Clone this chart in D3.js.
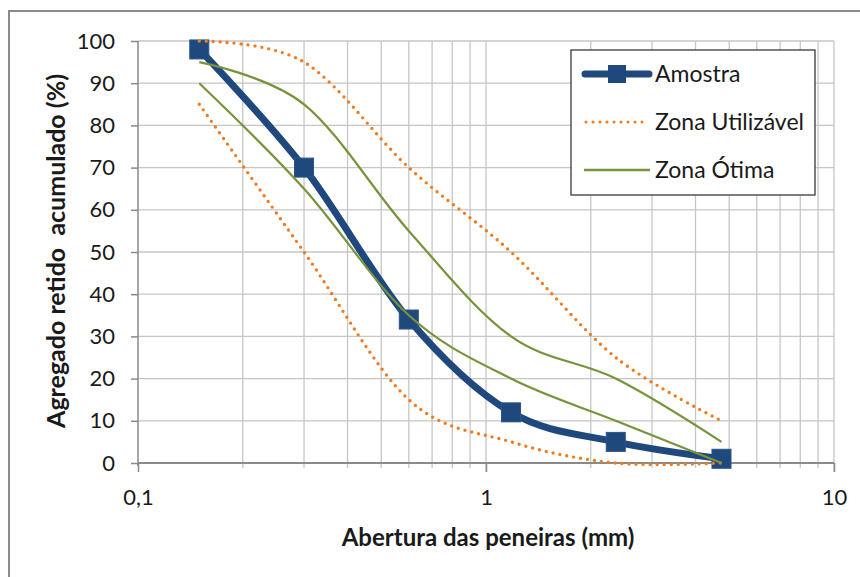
<!DOCTYPE html>
<html>
<head>
<meta charset="utf-8">
<script src="https://cdn.jsdelivr.net/npm/d3@7"></script>
<style>
  body { margin: 0; background: #fff; }
  svg text { font-family: Lato, "Open Sans", "DejaVu Sans", sans-serif; fill: #1a1a1a; }
</style>
</head>
<body>
<svg id="chart" width="860" height="577"></svg>
<script>
// Sieve openings (mm) and cumulative retained percentages
const sieves = [0.15, 0.3, 0.6, 1.18, 2.36, 4.75];
const amostra = [98, 70, 34, 12, 5, 1];
const utilInferior = [85, 50, 15, 5, 0, 0];
const utilSuperior = [100, 95, 70, 50, 25, 10];
const otimaInferior = [90, 65, 35, 20, 10, 0];
const otimaSuperior = [95, 85, 55, 30, 20, 5];

const xMajorTicks = [0.1, 1, 10];
const xTickLabels = ["0,1", "1", "10"];
const yTicks = [0, 10, 20, 30, 40, 50, 60, 70, 80, 90, 100];
const legendLabels = ["Amostra", "Zona Utilizável", "Zona Ótima"];

const colors = { amostra: "#1f497d", util: "#f07c22", otima: "#77933c" };

const svg = d3.select("#chart");
const plot = { left: 138, right: 834, top: 41, bottom: 463 };

const x = d3.scaleLog().domain([0.1, 10]).range([plot.left, plot.right]);
const y = d3.scaleLinear().domain([0, 100]).range([plot.bottom, plot.top]);

// Outer frame (left and top edges)
svg.append("path")
  .attr("d", "M9,577 V11 H860")
  .attr("fill", "none").attr("stroke", "#8a8a8a").attr("stroke-width", 2);

// Minor log ticks 0.2..0.9 and 2..9
const minorTicks = [];
[0.1, 1].forEach(d => { for (let k = 2; k <= 9; k++) minorTicks.push(+(d * k).toFixed(2)); });

const grid = svg.append("g").attr("stroke", "#c6c6c6").attr("stroke-width", 1.3);
grid.selectAll("line.v").data(minorTicks.concat([1, 10])).join("line")
  .attr("x1", d => x(d)).attr("x2", d => x(d))
  .attr("y1", plot.top).attr("y2", d => xMajorTicks.includes(d) ? plot.bottom + 9 : plot.bottom + 5);
grid.selectAll("line.h").data(yTicks.filter(d => d > 0)).join("line")
  .attr("x1", plot.left).attr("x2", plot.right)
  .attr("y1", d => y(d)).attr("y2", d => y(d));

// Y axis
const yAxis = svg.append("g")
  .attr("transform", `translate(${plot.left},0)`)
  .call(d3.axisLeft(y).tickValues(yTicks).tickSize(7).tickPadding(16));
yAxis.select(".domain").attr("stroke", "#8a8a8a").attr("stroke-width", 1.5)
  .attr("d", `M0,${plot.top}V${plot.bottom + 3}`);
yAxis.selectAll(".tick line").attr("stroke", "#8a8a8a").attr("stroke-width", 1.5);
yAxis.selectAll(".tick text").attr("font-size", 22).style("fill", "#1a1a1a");

// X axis
const xAxis = svg.append("g")
  .attr("transform", `translate(0,${plot.bottom})`)
  .call(d3.axisBottom(x).tickValues(xMajorTicks)
    .tickFormat((d, i) => xTickLabels[i]).tickSize(9).tickPadding(17));
xAxis.select(".domain").attr("stroke", "#8a8a8a").attr("stroke-width", 2.2)
  .attr("d", `M${plot.left},0H${plot.right}`);
xAxis.selectAll(".tick line").attr("stroke", "#8a8a8a").attr("stroke-width", 1.5);
xAxis.selectAll(".tick text").attr("font-size", 22).style("fill", "#1a1a1a");

// Axis titles
svg.append("text")
  .attr("x", 488).attr("y", 546)
  .attr("text-anchor", "middle").attr("font-size", 24).attr("font-weight", "bold")
  .text("Abertura das peneiras (mm)");
svg.append("text")
  .attr("transform", `translate(65,251) rotate(-90)`)
  .attr("text-anchor", "middle").attr("font-size", 25).attr("font-weight", "bold")
  .style("white-space", "pre")
  .text("Agregado retido  acumulado (%)");

const line = d3.line()
  .x((d, i) => x(sieves[i]))
  .y(d => y(d))
  .curve(d3.curveCardinal.tension(0));

// Amostra
svg.append("path").datum(amostra)
  .attr("d", line).attr("fill", "none")
  .attr("stroke", colors.amostra).attr("stroke-width", 7).attr("stroke-linejoin", "round");
const ms = 19;
svg.selectAll("rect.marker").data(amostra).join("rect")
  .attr("class", "marker")
  .attr("x", (d, i) => x(sieves[i]) - ms / 2).attr("y", d => y(d) - ms / 2)
  .attr("width", ms).attr("height", ms)
  .attr("fill", colors.amostra).attr("stroke", "#2a5588").attr("stroke-width", 1);

// Zona Utilizável (dotted limits)
[utilInferior, utilSuperior].forEach(series => {
  svg.append("path").datum(series)
    .attr("d", line).attr("fill", "none")
    .attr("stroke", colors.util).attr("stroke-width", 3.4)
    .attr("stroke-linecap", "round").attr("stroke-dasharray", "0,7");
});

// Zona Ótima
[otimaInferior, otimaSuperior].forEach(series => {
  svg.append("path").datum(series)
    .attr("d", line).attr("fill", "none")
    .attr("stroke", colors.otima).attr("stroke-width", 2.2);
});

// Legend
const lg = svg.append("g");
lg.append("rect").attr("x", 571).attr("y", 50).attr("width", 244).attr("height", 145)
  .attr("fill", "#fff").attr("stroke", "#3a3a3a").attr("stroke-width", 1.3);
const rows = [74, 122, 170];
lg.append("line").attr("x1", 585).attr("x2", 649).attr("y1", rows[0]).attr("y2", rows[0])
  .attr("stroke", colors.amostra).attr("stroke-width", 7).attr("stroke-linecap", "round");
lg.append("rect").attr("x", 617 - 9).attr("y", rows[0] - 9).attr("width", 18).attr("height", 18)
  .attr("fill", colors.amostra);
lg.append("line").attr("x1", 586).attr("x2", 648).attr("y1", rows[1]).attr("y2", rows[1])
  .attr("stroke", colors.util).attr("stroke-width", 3)
  .attr("stroke-linecap", "round").attr("stroke-dasharray", "0,7");
lg.append("line").attr("x1", 584).attr("x2", 650).attr("y1", rows[2]).attr("y2", rows[2])
  .attr("stroke", colors.otima).attr("stroke-width", 2.4);
lg.selectAll("text.lab").data(legendLabels).join("text")
  .attr("x", 655).attr("y", (d, i) => rows[i]).attr("dy", "0.35em")
  .attr("font-size", 23).text(d => d);
</script>
</body>
</html>
